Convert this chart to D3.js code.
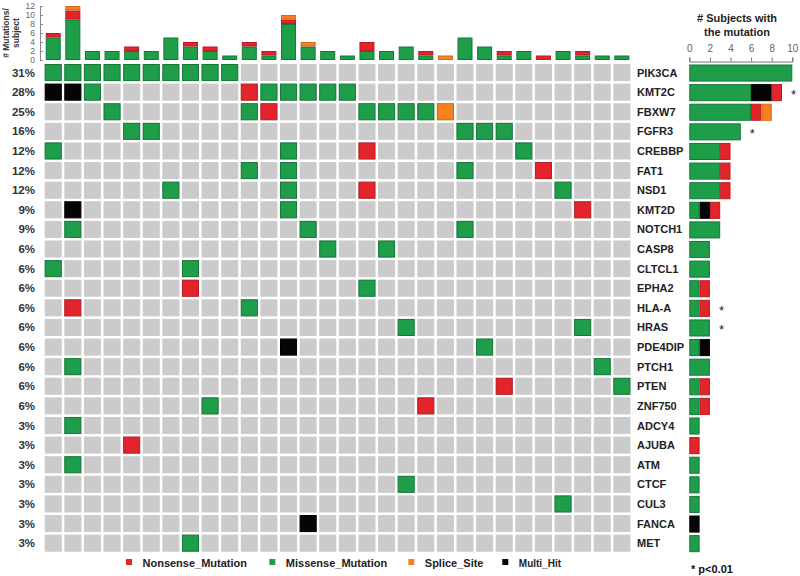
<!DOCTYPE html>
<html><head><meta charset="utf-8">
<script src="https://cdn.jsdelivr.net/npm/d3@7"></script>
<style>body{margin:0;background:#fff}svg{font-family:"Liberation Sans",Arial,sans-serif}</style>
</head><body><svg id="c" width="800" height="576"></svg>
<script>
const genes = ["PIK3CA","KMT2C","FBXW7","FGFR3","CREBBP","FAT1","NSD1","KMT2D","NOTCH1","CASP8","CLTCL1","EPHA2","HLA-A","HRAS","PDE4DIP","PTCH1","PTEN","ZNF750","ADCY4","AJUBA","ATM","CTCF","CUL3","FANCA","MET"];
const pct = ["31%","28%","25%","16%","12%","12%","12%","9%","9%","6%","6%","6%","6%","6%","6%","6%","6%","6%","3%","3%","3%","3%","3%","3%","3%"];
const subjects = d3.range(1, 31);
// per-subject mutation counts (top bars)
const topMissense = [5,9,2,2,2,2,5,3,2,1,3,1,8,3,2,1,2,2,3,1,0,5,3,1,2,0,2,1,1,1];
const topNonsense = [1,2,0,0,1,0,0,1,1,0,1,1,1,0,0,0,2,0,0,1,0,0,0,1,0,1,0,1,0,0];
const topSplice   = [0,1,0,0,0,0,0,0,0,0,0,0,1,1,0,0,0,0,0,0,1,0,0,0,0,0,0,0,0,0];
const topTicks = [0,2,4,6,8,10,12];
// per-gene subject counts (right bars)
const rightMissense = [10,6,6,5,3,3,3,1,3,2,2,1,1,2,1,2,1,1,1,0,1,1,1,0,1];
const rightMulti    = [0,2,0,0,0,0,0,1,0,0,0,0,0,0,1,0,0,0,0,0,0,0,0,1,0];
const rightNonsense = [0,1,1,0,1,1,1,1,0,0,0,1,1,0,0,0,1,1,0,1,0,0,0,0,0];
const rightSplice   = [0,0,1,0,0,0,0,0,0,0,0,0,0,0,0,0,0,0,0,0,0,0,0,0,0];
const rightTicks = [0,2,4,6,8,10];
const significant = ["KMT2C","FGFR3","HLA-A","HRAS"];
// mutated cells: [gene, subject, type]
const cells = [
 ["PIK3CA",1,"M"],["PIK3CA",2,"M"],["PIK3CA",3,"M"],["PIK3CA",4,"M"],["PIK3CA",5,"M"],["PIK3CA",6,"M"],["PIK3CA",7,"M"],["PIK3CA",8,"M"],["PIK3CA",9,"M"],["PIK3CA",10,"M"],
 ["KMT2C",1,"X"],["KMT2C",2,"X"],["KMT2C",3,"M"],["KMT2C",11,"N"],["KMT2C",12,"M"],["KMT2C",13,"M"],["KMT2C",14,"M"],["KMT2C",15,"M"],["KMT2C",16,"M"],
 ["FBXW7",4,"M"],["FBXW7",11,"M"],["FBXW7",12,"N"],["FBXW7",17,"M"],["FBXW7",18,"M"],["FBXW7",19,"M"],["FBXW7",20,"M"],["FBXW7",21,"S"],
 ["FGFR3",5,"M"],["FGFR3",6,"M"],["FGFR3",22,"M"],["FGFR3",23,"M"],["FGFR3",24,"M"],
 ["CREBBP",1,"M"],["CREBBP",13,"M"],["CREBBP",17,"N"],["CREBBP",25,"M"],
 ["FAT1",11,"M"],["FAT1",13,"M"],["FAT1",22,"M"],["FAT1",26,"N"],
 ["NSD1",7,"M"],["NSD1",13,"M"],["NSD1",17,"N"],["NSD1",27,"M"],
 ["KMT2D",2,"X"],["KMT2D",13,"M"],["KMT2D",28,"N"],
 ["NOTCH1",2,"M"],["NOTCH1",14,"M"],["NOTCH1",22,"M"],
 ["CASP8",15,"M"],["CASP8",18,"M"],
 ["CLTCL1",1,"M"],["CLTCL1",8,"M"],
 ["EPHA2",8,"N"],["EPHA2",17,"M"],
 ["HLA-A",2,"N"],["HLA-A",11,"M"],
 ["HRAS",19,"M"],["HRAS",28,"M"],
 ["PDE4DIP",13,"X"],["PDE4DIP",23,"M"],
 ["PTCH1",2,"M"],["PTCH1",29,"M"],
 ["PTEN",24,"N"],["PTEN",30,"M"],
 ["ZNF750",9,"M"],["ZNF750",20,"N"],
 ["ADCY4",2,"M"],["AJUBA",5,"N"],["ATM",2,"M"],["CTCF",19,"M"],["CUL3",27,"M"],["FANCA",14,"X"],["MET",8,"M"]
];
const legendItems = [["N","Nonsense_Mutation"],["M","Missense_Mutation"],["S","Splice_Site"],["X","Multi_Hit"]];

const fill = {M:"#1f9e49", N:"#e3242b", S:"#f6821f", X:"#050505"};
const stroke = {M:"#15773a", N:"#b81c22", S:"#d0691a", X:"#000"};

const svg = d3.select("#c");
const x = d3.scaleBand().domain(subjects).range([44.7, 630.4]).paddingInner(0.13);
const y = d3.scaleBand().domain(genes).range([64, 551.7]).paddingInner(0.13);

// background grid
const g = svg.append("g");
genes.forEach(gn => {
  g.selectAll(null).data(subjects).enter().append("rect")
   .attr("x", s => x(s)).attr("y", y(gn)).attr("width", x.bandwidth()).attr("height", y.bandwidth())
   .attr("fill", "#cbcbcb");
});
g.selectAll(".mut").data(cells).enter().append("rect")
 .attr("x", d => x(d[1]) + 0.5).attr("y", d => y(d[0]) + 0.5)
 .attr("width", x.bandwidth() - 1).attr("height", y.bandwidth() - 1)
 .attr("fill", d => fill[d[2]]).attr("stroke", d => stroke[d[2]]).attr("stroke-width", 1);

// percent labels
svg.selectAll(".pct").data(genes).enter().append("text")
 .attr("x", 35).attr("y", gn => y(gn) + y.bandwidth()/2 + 4)
 .attr("text-anchor", "end").attr("font-size", 11.5).attr("font-weight", "bold").attr("fill", "#333")
 .text((gn, i) => pct[i]);
// gene labels
svg.selectAll(".gene").data(genes).enter().append("text")
 .attr("x", 637).attr("y", gn => y(gn) + y.bandwidth()/2 + 4)
 .attr("font-size", 11).attr("font-weight", "bold").attr("fill", "#222")
 .text(gn => gn);

// top bar chart
const yt = d3.scaleLinear().domain([0, 12]).range([60, 6]);
const topW = 15;
const topG = svg.append("g");
subjects.forEach((s, i) => {
  const segs = [["M", topMissense[i]], ["N", topNonsense[i]], ["S", topSplice[i]]];
  let base = 0;
  segs.forEach(([t, v]) => {
    if (v > 0) {
      topG.append("rect").attr("x", x(s) + (x.bandwidth() - topW)/2 + 0.5).attr("width", topW - 1)
        .attr("y", yt(base + v) + 0.5).attr("height", yt(base) - yt(base + v) - 1)
        .attr("fill", fill[t]).attr("stroke", stroke[t]).attr("stroke-width", 1);
      base += v;
    }
  });
});
const yAxis = svg.append("g").attr("transform", "translate(40,0)")
 .call(d3.axisLeft(yt).tickValues(topTicks).tickSize(-3).tickPadding(5));
yAxis.selectAll("text").attr("font-size", 8.5).attr("fill", "#666").attr("font-family", "Liberation Sans, Arial");
yAxis.selectAll("path,line").attr("stroke", "#888");
svg.append("text").attr("transform", "translate(9,33) rotate(-90)").attr("text-anchor", "middle")
 .attr("font-size", 8.5).attr("font-weight", "bold").attr("fill", "#333").text("# Mutations/");
svg.append("text").attr("transform", "translate(19,33) rotate(-90)").attr("text-anchor", "middle")
 .attr("font-size", 8.5).attr("font-weight", "bold").attr("fill", "#333").text("subject");

// right bar chart
const xr = d3.scaleLinear().domain([0, 10]).range([689.3, 792.3]);
const rG = svg.append("g");
genes.forEach((gn, i) => {
  const segs = [["M", rightMissense[i]], ["X", rightMulti[i]], ["N", rightNonsense[i]], ["S", rightSplice[i]]];
  let base = 0;
  segs.forEach(([t, v]) => {
    if (v > 0) {
      rG.append("rect").attr("x", xr(base) + 0.5).attr("width", xr(base + v) - xr(base) - 1)
        .attr("y", y(gn) + 1).attr("height", y.bandwidth() - 1)
        .attr("fill", fill[t]).attr("stroke", stroke[t]).attr("stroke-width", 1);
      base += v;
    }
  });
  if (significant.includes(gn)) {
    rG.append("text").attr("x", xr(base) + 9).attr("y", y(gn) + y.bandwidth()/2 + 7)
      .attr("font-size", 13).attr("fill", "#222").text("*");
  }
});
const xAxis = svg.append("g").attr("transform", "translate(0,61.5)")
 .call(d3.axisTop(xr).tickValues(rightTicks).tickSize(4).tickPadding(6));
xAxis.selectAll("text").attr("font-size", 10).attr("fill", "#666").attr("font-family", "Liberation Sans, Arial");
xAxis.selectAll("path,line").attr("stroke", "#777");
svg.append("text").attr("x", 737).attr("y", 22).attr("text-anchor", "middle")
 .attr("font-size", 11).attr("font-weight", "bold").attr("fill", "#222").text("# Subjects with");
svg.append("text").attr("x", 737).attr("y", 36).attr("text-anchor", "middle")
 .attr("font-size", 11).attr("font-weight", "bold").attr("fill", "#222").text("the mutation");

// legend
const legX = [126, 269.3, 408.3, 502.3];
const legG = svg.append("g");
legendItems.forEach(([t, lab], i) => {
  legG.append("rect").attr("x", legX[i]).attr("y", 559).attr("width", 6).attr("height", 6).attr("fill", fill[t]);
  legG.append("text").attr("x", legX[i] + 16.5).attr("y", 567).attr("font-size", i === 3 ? 10 : 11)
    .attr("font-weight", "bold").attr("fill", "#222").text(lab);
});
svg.append("text").attr("x", 691).attr("y", 573).attr("font-size", 11).attr("font-weight", "bold")
 .attr("fill", "#111").text("* p<0.01");
</script></body></html>
